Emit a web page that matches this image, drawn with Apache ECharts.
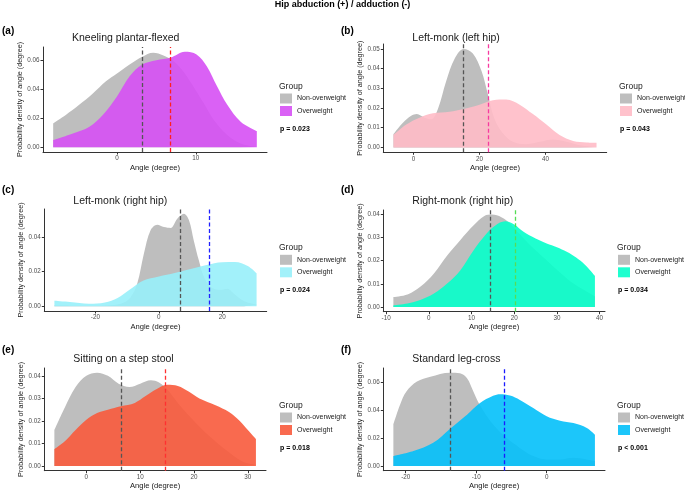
<!DOCTYPE html>
<html><head><meta charset="utf-8">
<script src="https://cdn.jsdelivr.net/npm/echarts@6/dist/echarts.min.js"></script>
<style>html,body{margin:0;padding:0;background:#fff}#c{width:685px;height:491px}</style>
</head><body><div id="c"></div>
<script>
// ---------- data ----------
const mainTitle = 'Hip abduction (+) / adduction (-)';
const panelTags = ['(a)', '(b)', '(c)', '(d)', '(e)', '(f)'];
const panelTitles = ['Kneeling plantar-flexed', 'Left-monk (left hip)', 'Left-monk (right hip)', 'Right-monk (right hip)', 'Sitting on a step stool', 'Standard leg-cross'];
const groups = ['Non-overweight', 'Overweight'];
const pValues = ['p = 0.023', 'p = 0.043', 'p = 0.024', 'p = 0.034', 'p = 0.018', 'p < 0.001'];

const aNonX = [-8.1, -6.5, -4.8, -3.1, -1.4, 0, 1.6, 3.2, 4.6, 5.9, 7.2, 8.4, 9.7, 11.0, 12.3, 14.0, 15.7, 17.75];
const aNonY = [0.0165, 0.0223, 0.0293, 0.037, 0.0456, 0.051, 0.0572, 0.0626, 0.0654, 0.0635, 0.0595, 0.0526, 0.042, 0.0305, 0.0188, 0.0084, 0.0026, 0.0002];
const aOverX = [-8.1, -5.6, -3.5, -1.8, 0, 1.6, 3.2, 5.0, 6.8, 8.6, 10.1, 11.4, 12.7, 14.0, 15.7, 17.75];
const aOverY = [0.0049, 0.0095, 0.0142, 0.0223, 0.0351, 0.049, 0.0572, 0.0602, 0.0619, 0.066, 0.0642, 0.056, 0.0421, 0.0293, 0.0177, 0.0112];
const aMeans = [3.24, 6.77];

const bNonX = [-6.08, -3.2, -0.7, 1.0, 3.3, 5.4, 7.4, 9.9, 12.5, 15.2, 18.0, 20.6, 22.6, 24.6, 27.1, 30.2, 34.2, 38.3, 42.3, 46.4, 50.4, 55.5];
const bNonY = [0.0067, 0.0125, 0.016, 0.0169, 0.0151, 0.0143, 0.0195, 0.0336, 0.0451, 0.050, 0.0477, 0.0389, 0.0266, 0.0143, 0.0072, 0.0028, 0.0016, 0.0028, 0.004, 0.0028, 0.0011, 0.0002];
const bOverX = [-6.08, -2.2, 1.8, 5.9, 10.9, 15.2, 20.0, 24.1, 28.1, 32.2, 36.2, 40.3, 44.3, 48.4, 52.5, 55.5];
const bOverY = [0.0063, 0.0116, 0.0151, 0.0173, 0.0181, 0.0195, 0.0217, 0.0239, 0.0243, 0.0217, 0.0169, 0.0116, 0.0063, 0.0033, 0.0025, 0.0023];
const bMeans = [15.2, 22.7];

const cNonX = [-32.9, -25, -18, -12, -9, -6.8, -4.7, -2.6, -0.5, 1.6, 3.7, 5.8, 7.9, 9.5, 11.0, 12.6, 14.2, 16.3, 19.5, 21.6, 23.7, 26.8, 30.8];
const cNonY = [0.0005, 0.0004, 0.0004, 0.0015, 0.005, 0.0131, 0.0304, 0.0438, 0.047, 0.0457, 0.0452, 0.0505, 0.0534, 0.0496, 0.038, 0.0265, 0.017, 0.0112, 0.0096, 0.0102, 0.0073, 0.0031, 0.001];
const cOverX = [-32.9, -28, -22, -17, -13, -9, -5, 0, 5, 10, 15, 20, 24, 28, 30.8];
const cOverY = [0.0032, 0.0025, 0.0015, 0.0022, 0.0048, 0.0098, 0.0148, 0.0172, 0.0192, 0.0215, 0.0238, 0.0254, 0.0255, 0.0232, 0.019];
const cMeans = [6.6, 16.0];

const dNonX = [-8.3, -5, -2, 1.2, 4.3, 7.4, 10.5, 13, 14.8, 17, 19, 21.5, 24, 27.6, 31, 34, 38.9];
const dNonY = [0.0043, 0.0054, 0.0087, 0.0145, 0.0222, 0.0289, 0.0352, 0.0392, 0.0398, 0.0387, 0.036, 0.031, 0.0262, 0.0202, 0.0145, 0.010, 0.0046];
const dOverX = [-8.3, -5, -2, 1.2, 4.3, 7.4, 10.5, 13, 15.5, 17.9, 20, 22.1, 25, 27.6, 30, 32.3, 34.5, 36.5, 38.9];
const dOverY = [0.0007, 0.0015, 0.003, 0.0058, 0.0101, 0.0159, 0.0245, 0.0305, 0.035, 0.0369, 0.0355, 0.0325, 0.0295, 0.0274, 0.0258, 0.0238, 0.0213, 0.0183, 0.0134];
const dMeans = [14.5, 20.2];

const eNonX = [-5.94, -4, -2, 0, 2, 4, 6, 8, 10, 12, 13.5, 15, 17, 20, 23, 26, 29, 31.5];
const eNonY = [0.016, 0.026, 0.035, 0.040, 0.0414, 0.040, 0.0365, 0.035, 0.0365, 0.038, 0.037, 0.034, 0.028, 0.020, 0.013, 0.007, 0.002, 0.0005];
const eOverX = [-5.94, -4, -2, 0, 2, 4, 6.4, 9, 11, 13, 15, 17, 19, 21, 24, 26.5, 28.5, 30, 31.5];
const eOverY = [0.0075, 0.011, 0.016, 0.0205, 0.0235, 0.025, 0.0265, 0.028, 0.031, 0.034, 0.036, 0.0355, 0.033, 0.030, 0.027, 0.024, 0.020, 0.016, 0.012];
const eMeans = [6.43, 14.6];

const fNonX = [-21.75, -20.8, -19.9, -18.4, -16.5, -13.7, -12.3, -11.3, -10.4, -9.5, -7.6, -5.7, -3.8, -1.9, 0, 1.9, 3.8, 5.7, 6.85];
const fNonY = [0.0297, 0.0439, 0.0534, 0.0605, 0.064, 0.0669, 0.0664, 0.0629, 0.0534, 0.0439, 0.0297, 0.0202, 0.013, 0.0071, 0.0047, 0.0047, 0.0059, 0.0047, 0.0036];
const fOverX = [-21.75, -18.9, -16.1, -13.7, -11.3, -9.5, -7.6, -6.6, -5.2, -3.8, -1.9, 0, 1.9, 3.8, 5.7, 6.85];
const fOverY = [0.0071, 0.0107, 0.0166, 0.0268, 0.0368, 0.045, 0.0503, 0.0515, 0.0505, 0.0474, 0.0415, 0.0356, 0.0325, 0.0308, 0.0273, 0.0225];
const fMeans = [-13.7, -6.05];

const xTicks = [[0, 10], [0, 20, 40], [-20, 0, 20], [-10, 0, 10, 20, 30, 40], [0, 10, 20, 30], [-20, -10, 0]];
const yTicks = [[0, 0.02, 0.04, 0.06], [0, 0.01, 0.02, 0.03, 0.04, 0.05], [0, 0.02, 0.04], [0, 0.01, 0.02, 0.03, 0.04], [0, 0.01, 0.02, 0.03, 0.04], [0, 0.02, 0.04, 0.06]];

// ---------- layout / style ----------
const FONT = '"Liberation Sans", Arial, sans-serif';
const GRAY = '#bebebe';
const panels = [
  {nx: aNonX, ny: aNonY, ox: aOverX, oy: aOverY, means: aMeans, fill: 'rgb(214,80,244)', mc: '#ff2020', box: [43, 47, 224, 105], tag: [2, 26], tTop: 33, leg: [279, 87]},
  {nx: bNonX, ny: bNonY, ox: bOverX, oy: bOverY, means: bMeans, fill: 'rgb(255,187,198)', mc: '#f73aa0', box: [383.3, 44, 223.4, 108.3], tag: [341, 26], tTop: 33, leg: [619, 87]},
  {nx: cNonX, ny: cNonY, ox: cOverX, oy: cOverY, means: cMeans, fill: 'rgb(152,240,250)', mc: '#2020ff', box: [44.3, 209, 222.4, 102], tag: [2, 185], tTop: 195.5, leg: [279, 248.3]},
  {nx: dNonX, ny: dNonY, ox: dOverX, oy: dOverY, means: dMeans, fill: 'rgb(5,255,202)', mc: '#55dd55', box: [383.3, 210, 221.7, 101.7], tag: [341, 185], tTop: 196, leg: [617, 248.3]},
  {nx: eNonX, ny: eNonY, ox: eOverX, oy: eOverY, means: eMeans, fill: 'rgb(248,90,60)', mc: '#ff3030', box: [44.3, 368, 221.7, 102.7], tag: [2, 345], tTop: 354, leg: [279, 406]},
  {nx: fNonX, ny: fNonY, ox: fOverX, oy: fOverY, means: fMeans, fill: 'rgb(3,192,250)', mc: '#1a1aff', box: [383.3, 368, 221.7, 102.7], tag: [341, 345], tTop: 354, leg: [617, 406]}
];
const zip = (xs, ys) => xs.map((x, i) => [x, ys[i]]);

const option = {
  animation: false,
  backgroundColor: '#fff',
  textStyle: {fontFamily: FONT},
  title: [],
  grid: [], xAxis: [], yAxis: [], series: [], legend: []
};
option.title.push({text: mainTitle, left: 'center', top: 0, padding: 0, textStyle: {fontSize: 9, fontWeight: 'bold', color: '#000', fontFamily: FONT}});

panels.forEach((p, i) => {
  const xmin = Math.min(p.nx[0], p.ox[0]), xmax = Math.max(p.nx[p.nx.length - 1], p.ox[p.ox.length - 1]);
  const xr = xmax - xmin;
  const ymax = Math.max(...p.ny, ...p.oy);
  option.grid.push({left: p.box[0], top: p.box[1], width: p.box[2], height: p.box[3], outerBoundsMode: 'none', containLabel: false});
  option.xAxis.push({
    type: 'value', gridIndex: i, min: xmin - 0.05 * xr, max: xmax + 0.05 * xr,
    axisLine: {show: true, onZero: false, lineStyle: {color: '#333', width: 1}},
    axisTick: {show: true, length: 2.5, lineStyle: {color: '#333'}, customValues: xTicks[i]},
    axisLabel: {customValues: xTicks[i], fontSize: 6.3, color: '#4d4d4d', margin: 3.5, fontFamily: FONT},
    splitLine: {show: false},
    name: 'Angle (degree)', nameLocation: 'middle', nameGap: 11.5,
    nameTextStyle: {fontSize: 7.6, color: '#1a1a1a', fontFamily: FONT}
  });
  option.yAxis.push({
    type: 'value', gridIndex: i, min: -0.05 * ymax, max: 1.05 * ymax,
    axisLine: {show: true, onZero: false, lineStyle: {color: '#333', width: 1}},
    axisTick: {show: true, length: 2.5, lineStyle: {color: '#333'}, customValues: yTicks[i]},
    axisLabel: {customValues: yTicks[i], fontSize: 6.3, color: '#4d4d4d', margin: 3.5, fontFamily: FONT, formatter: v => v.toFixed(2)},
    splitLine: {show: false},
    name: 'Probability density of angle (degree)', nameLocation: 'middle', nameGap: 19,
    nameTextStyle: {fontSize: 7.2, color: '#1a1a1a', fontFamily: FONT}
  });
  const tag = panelTags[i];
  option.series.push({
    name: tag + groups[0], type: 'line', xAxisIndex: i, yAxisIndex: i, data: zip(p.nx, p.ny),
    smooth: 0.35, showSymbol: false, symbol: 'none', silent: true,
    lineStyle: {width: 0}, itemStyle: {color: GRAY}, areaStyle: {color: GRAY, opacity: 1}
  });
  option.series.push({
    name: tag + groups[1], type: 'line', xAxisIndex: i, yAxisIndex: i, data: zip(p.ox, p.oy),
    smooth: 0.35, showSymbol: false, symbol: 'none', silent: true,
    lineStyle: {width: 0}, itemStyle: {color: p.fill}, areaStyle: {color: p.fill, opacity: 0.9},
    markLine: {
      silent: true, symbol: ['none', 'none'], label: {show: false},
      data: [
        {xAxis: p.means[0], lineStyle: {color: '#555', type: [4, 2.5], width: 1.3}},
        {xAxis: p.means[1], lineStyle: {color: p.mc, type: [4, 2.5], width: 1.3}}
      ]
    }
  });
  option.legend.push({
    left: p.leg[0] + 1, top: p.leg[1] + 6.5, orient: 'vertical', padding: 0,
    itemWidth: 12, itemHeight: 10, itemGap: 2.5, selectedMode: false,
    textStyle: {fontSize: 7, color: '#1a1a1a', fontFamily: FONT},
    formatter: n => n.slice(3),
    data: [
      {name: tag + groups[0], icon: 'rect', itemStyle: {color: GRAY}},
      {name: tag + groups[1], icon: 'rect', itemStyle: {color: p.fill, opacity: 0.9}}
    ]
  });
  option.title.push({text: tag, left: p.tag[0], top: p.tag[1], padding: 0, textStyle: {fontSize: 10, fontWeight: 'bold', color: '#000', fontFamily: FONT}});
  option.title.push({text: panelTitles[i], left: p.box[0] + 29, top: p.tTop, padding: 0, textStyle: {fontSize: 10.5, fontWeight: 'normal', color: '#1a1a1a', fontFamily: FONT}});
  option.title.push({text: 'Group', left: p.leg[0], top: p.leg[1] - 5, padding: 0, textStyle: {fontSize: 8.5, fontWeight: 'normal', color: '#1a1a1a', fontFamily: FONT}});
  option.title.push({text: pValues[i], left: p.leg[0] + 1, top: p.leg[1] + 38.5, padding: 0, textStyle: {fontSize: 7, fontWeight: 'bold', color: '#000', fontFamily: FONT}});
});

const chart = echarts.init(document.getElementById('c'), null, {renderer: 'canvas'});
chart.setOption(option);
</script>
</body></html>
